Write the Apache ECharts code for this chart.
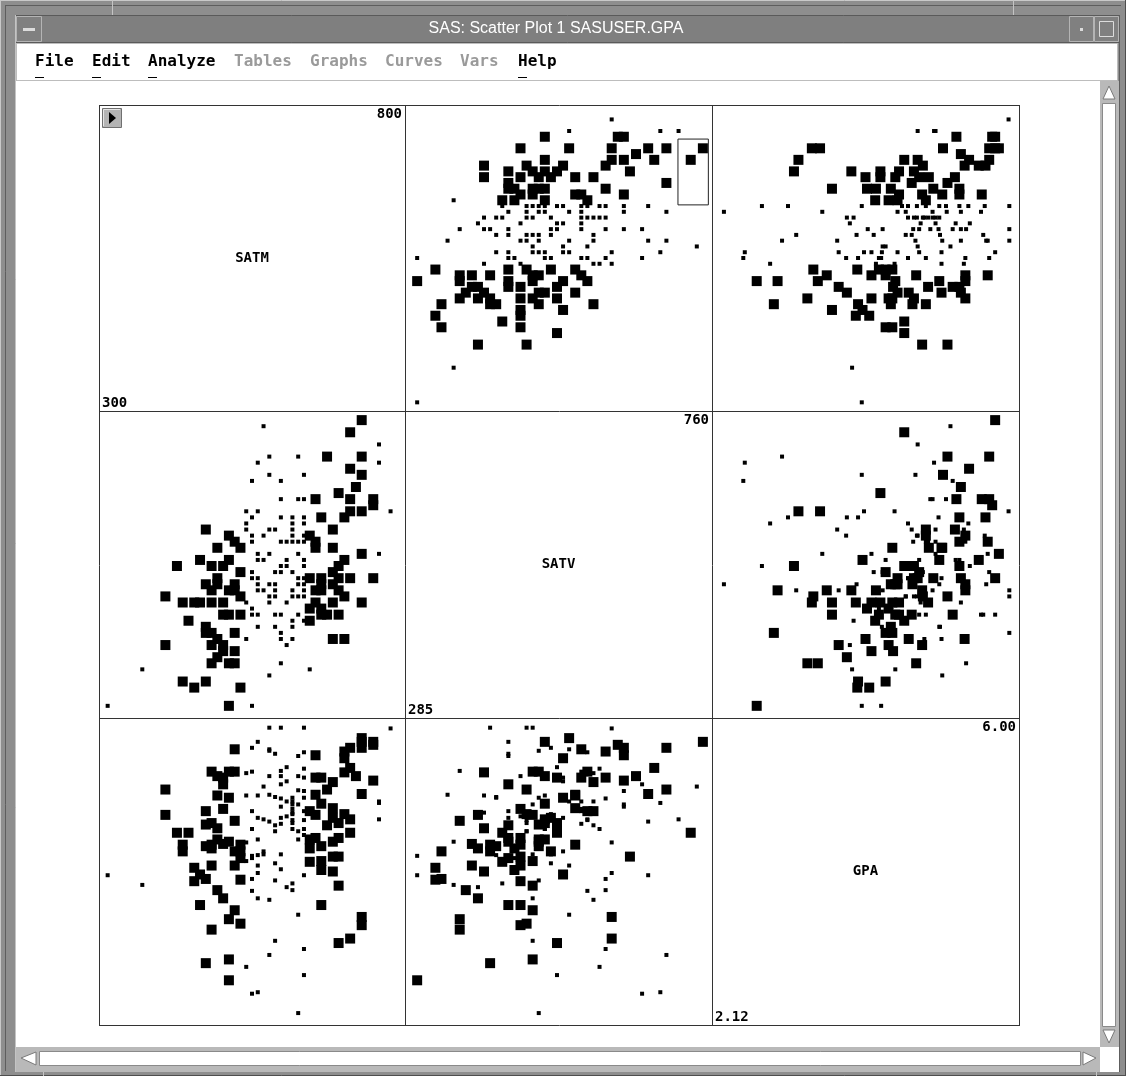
<!DOCTYPE html>
<html>
<head>
<meta charset="utf-8">
<script src="https://cdn.jsdelivr.net/npm/echarts@6/dist/echarts.min.js"></script>
<style>
  html, body { margin: 0; padding: 0; background: #8e8e8e; }
  #chart { width: 1126px; height: 1076px; }
</style>
</head>
<body>
<div id="chart"></div>
<script>
// variables of the matrix, in row/column order
const varNames = ['SATM', 'SATV', 'GPA'];
const minLabels = ['300', '285', '2.12'];
const maxLabels = ['800', '760', '6.00'];
const axisMin = [285, 270, 2.0];
const axisMax = [815, 775, 6.12];

// one entry per student
const satm = [
  790, 770, 770, 770,
  760, 740, 740, 740, 760, 760, 740, 740, 740,
  720, 730, 720, 720, 710, 720, 700, 680,
  710, 690, 710, 700, 720, 700, 690, 690, 700, 710,
  700, 680, 690, 670, 670, 660, 650, 650, 670, 670,
  670, 660, 650, 690, 690, 670, 660, 660, 660, 650,
  650, 640, 630, 640, 630, 640, 640, 630, 640, 630,
  640, 640, 630, 640, 630, 640, 640, 640, 640, 630, 640, 630,
  620, 620, 620, 620, 620, 620, 620, 620, 620, 620, 620,
  610, 610, 610, 610, 610,
  600, 600, 600, 600, 600, 600, 600, 600, 600, 600,
  580,
  590, 590, 590, 590, 590, 590, 590,
  580, 580, 580, 580, 580, 580, 580,
  570, 570, 570, 570,
  550,
  560, 560, 560, 560, 560, 560, 560,
  550, 550,
  560, 550, 560,
  550, 550, 550, 550, 550,
  540, 540, 540, 540, 540,
  510, 530, 520, 510, 520, 500, 520, 530, 510, 500,
  530, 520, 520, 510, 530, 500, 510, 530, 520, 510,
  500, 500, 490, 480, 480, 490, 480, 470, 470, 480,
  480, 490, 480, 490, 470, 470, 460, 460, 450, 450,
  430, 440, 430, 420, 400, 400,
  360, 300,
  490, 470
];
const satv = [
  610, 540, 690, 720,
  500, 460, 540, 610, 620, 630, 670, 700, 760,
  740, 650, 630, 610, 600, 680, 640, 700,
  400, 400, 470, 480, 500, 500, 490, 510, 520, 530,
  440, 440, 460, 450, 440, 460, 450, 430, 480, 490,
  500, 480, 500, 550, 580, 600, 630, 550, 560, 570,
  350, 430, 440, 470, 470, 480, 490, 490, 500, 500,
  520, 530, 540, 560, 560, 570, 600, 590, 630, 630, 670, 700,
  400, 420, 430, 470, 480, 510, 560, 570, 580, 590, 600,
  390, 460, 520, 530, 560,
  360, 400, 410, 440, 510, 520, 560, 600, 630, 660,
  340,
  420, 440, 470, 480, 490, 510, 580,
  670, 700, 460, 470, 490, 540, 580,
  480, 530, 570, 750,
  290,
  420, 440, 480, 490, 500, 530, 540,
  560, 570,
  610, 600, 690,
  660, 440, 450, 500, 510,
  400, 460, 580, 590, 610,
  290, 320, 360, 360, 380, 380, 410, 440, 440, 440,
  470, 480, 490, 480, 510, 520, 530, 550, 560, 570,
  460, 390, 370, 360, 390, 400, 410, 420, 410, 460,
  480, 490, 520, 550, 580, 330, 530, 460, 460, 320,
  330, 430, 460, 520, 390, 470,
  350, 290,
  500, 490
];
const gpa = [
  5.98, 5.00, 4.98, 4.76,
  5.80, 3.34, 5.85, 3.45, 5.76, 5.28, 5.10, 5.72, 5.80,
  4.58, 5.34, 5.72, 3.16, 5.67, 5.45, 4.26, 5.16,
  5.39, 4.06, 4.83, 3.87, 4.76, 4.71, 4.46, 4.78, 3.10, 5.58,
  4.51, 4.68, 4.26, 4.08, 3.61, 4.51, 4.37, 4.19, 4.20, 4.40,
  4.97, 4.82, 4.49, 4.91, 5.26, 5.32, 5.62, 5.09, 5.32, 4.87,
  4.46, 4.55, 5.61, 4.75, 4.60, 5.99, 5.05, 2.16, 4.63, 4.49,
  2.67, 5.32, 3.48, 4.87, 5.34, 5.66, 3.02, 5.44, 5.14, 4.96, 4.01, 5.15,
  4.85, 5.05, 3.90, 4.71, 4.96, 4.83, 4.90, 4.75, 5.00, 4.63, 3.81,
  3.85, 4.80, 5.46, 5.27, 5.00,
  5.41, 4.09, 5.99, 4.78, 4.29, 5.34, 4.70, 5.04, 4.93, 5.23,
  5.09,
  5.06, 5.64, 4.60, 3.13, 3.94, 4.17, 4.68,
  4.73, 2.94, 5.34, 5.99, 5.68, 5.70, 3.68,
  4.29, 4.33, 4.76, 5.20,
  4.27,
  4.28, 5.80, 3.70, 4.49, 5.08, 4.78, 4.14,
  5.40, 3.80,
  4.04, 3.96, 2.44,
  2.42, 4.87, 4.24, 4.63, 5.72,
  5.08, 4.20, 5.38, 2.78, 4.45,
  2.60, 3.95, 4.74, 3.42, 4.14, 4.43, 4.33, 4.24, 4.46, 5.23,
  3.36, 3.54, 5.40, 2.88, 4.33, 5.32, 5.05, 4.42, 5.70, 5.40,
  4.90, 3.70, 3.81, 3.28, 4.37, 4.64, 4.42, 4.40, 2.83, 4.14,
  5.40, 4.49, 4.71, 5.08, 4.87, 3.96, 4.02, 3.61, 3.93, 4.11,
  4.33, 4.58, 4.42, 4.58, 4.82, 5.16,
  3.88, 4.01,
  5.34, 4.69
];
// 1 = drawn with the large marker
const big = [
  0, 0, 0, 0,
  1, 1, 1, 1, 1, 1, 1, 1, 1,
  1, 1, 1, 1, 1, 1, 1, 1,
  1, 1, 1, 1, 1, 1, 1, 1, 1, 1,
  1, 1, 1, 1, 1, 1, 1, 1, 1, 1,
  1, 1, 1, 1, 1, 1, 1, 1, 1, 1,
  0, 0, 0, 0, 0, 0, 0, 0, 0, 0,
  0, 0, 0, 0, 0, 0, 0, 0, 0, 0, 0, 0,
  0, 0, 0, 0, 0, 0, 0, 0, 0, 0, 0,
  0, 0, 0, 0, 0,
  0, 0, 0, 0, 0, 0, 0, 0, 0, 0,
  0,
  0, 0, 0, 0, 0, 0, 0,
  0, 0, 0, 0, 0, 0, 0,
  0, 0, 0, 0,
  0,
  0, 0, 0, 0, 0, 0, 0,
  0, 0,
  0, 0, 0,
  0, 0, 0, 0, 0,
  0, 0, 0, 0, 0,
  1, 1, 1, 1, 1, 1, 1, 1, 1, 1,
  1, 1, 1, 1, 1, 1, 1, 1, 1, 1,
  1, 1, 1, 1, 1, 1, 1, 1, 1, 1,
  1, 1, 1, 1, 1, 1, 1, 1, 1, 1,
  1, 1, 1, 1, 1, 1,
  0, 0,
  1, 1
];
// brushed rectangle in the SATV / SATM panel (SATV, SATM corners)
const brushBox = [[719, 756], [769, 642]];

const menuItems = ['File', 'Edit', 'Analyze', 'Tables', 'Graphs', 'Curves', 'Vars', 'Help'];
const menuEnabled = [1, 1, 1, 0, 0, 0, 0, 1];
const menuX = [35, 92, 148, 234, 310, 385, 460, 518];

const cols = [satm, satv, gpa];
const cellX = [99, 405, 712, 1019];
const cellY = [105, 411, 718, 1025];

const chart = echarts.init(document.getElementById('chart'));

const grids = [], xAxes = [], yAxes = [], series = [];
for (let r = 0; r < 3; r++) {
  for (let c = 0; c < 3; c++) {
    if (r === c) continue;
    const gi = grids.length;
    grids.push({
      left: cellX[c], top: cellY[r],
      width: cellX[c + 1] - cellX[c], height: cellY[r + 1] - cellY[r],
      show: false
    });
    xAxes.push({ gridIndex: gi, type: 'value', min: axisMin[c], max: axisMax[c], show: false });
    yAxes.push({ gridIndex: gi, type: 'value', min: axisMin[r], max: axisMax[r], show: false });
    const pts = satm.map((_, i) => [cols[c][i], cols[r][i], big[i]]);
    const s = {
      type: 'scatter',
      xAxisIndex: gi, yAxisIndex: gi,
      symbol: 'rect',
      symbolSize: v => (v[2] ? 10 : 4),
      itemStyle: { color: '#000', opacity: 1 },
      silent: true,
      clip: false,
      data: pts
    };
    if (r === 0 && c === 1) {
      s.markArea = {
        silent: true,
        itemStyle: { color: 'rgba(0,0,0,0)', borderColor: '#222', borderWidth: 1 },
        data: [[{ coord: brushBox[0] }, { coord: brushBox[1] }]]
      };
    }
    series.push(s);
  }
}

// window chrome and matrix frame
const g = [];
const rect = (x, y, w, h, fill, stroke, z) => ({
  type: 'rect', z: z || 0, silent: true,
  shape: { x: x, y: y, width: w, height: h },
  style: { fill: fill, stroke: stroke || null, lineWidth: 1 }
});
const line = (x1, y1, x2, y2, color, z) => ({
  type: 'line', z: z || 1, silent: true,
  shape: { x1: x1, y1: y1, x2: x2, y2: y2 },
  style: { stroke: color, lineWidth: 1 }
});
const poly = (pts, fill, stroke, z) => ({
  type: 'polygon', z: z || 1, silent: true,
  shape: { points: pts },
  style: { fill: fill, stroke: stroke || null, lineWidth: 1 }
});
const text = (t, x, y, font, fill, align, valign, z) => ({
  type: 'text', z: z || 5, silent: true,
  style: { text: t, x: x, y: y, font: font, fill: fill,
    align: align, verticalAlign: valign, textAlign: align, textVerticalAlign: valign }
});

// outer frame bevels
g.push(line(0.5, 0, 0.5, 1076, '#c9c9c9'));
g.push(line(0, 0.5, 1126, 0.5, '#c9c9c9'));
g.push(line(1125.5, 0, 1125.5, 1076, '#4e4e4e'));
g.push(line(0, 1075.5, 1126, 1075.5, '#4e4e4e'));
g.push(line(5.5, 5, 5.5, 1071, '#5e5e5e'));
g.push(line(5, 5.5, 1121, 5.5, '#5e5e5e'));
g.push(line(15.5, 15, 15.5, 1072, '#c4c4c4'));
g.push(line(1119.5, 15, 1119.5, 1072, '#5e5e5e'));
g.push(line(112.5, 0, 112.5, 15, '#c4c4c4'));
g.push(line(1013.5, 0, 1013.5, 15, '#c4c4c4'));

// title bar
g.push(rect(16, 16, 1103, 27, '#7f7f7f'));
g.push(line(16, 15.5, 1119, 15.5, '#5a5a5a'));
g.push(line(16, 42.5, 1119, 42.5, '#5a5a5a'));
g.push(rect(16.5, 16.5, 25, 25, '#808080', '#b4b4b4', 1));
g.push(rect(23, 28, 12, 3, '#dcdcdc', null, 2));
g.push(rect(1069.5, 16.5, 24, 25, '#808080', '#b4b4b4', 1));
g.push(rect(1080, 28, 3, 3, '#dcdcdc', null, 2));
g.push(rect(1094.5, 16.5, 24, 25, '#808080', '#b4b4b4', 1));
g.push(rect(1099.5, 21.5, 14, 15, null, '#dcdcdc', 2));
g.push(text('SAS: Scatter Plot 1 SASUSER.GPA', 556, 29,
  '16px "Liberation Sans", Arial, sans-serif', '#ffffff', 'center', 'middle'));

// menu bar
g.push(rect(16.5, 43.5, 1101, 37, '#ffffff', '#bdbdbd'));
menuItems.forEach((m, i) => {
  g.push(text(m, menuX[i], 62, 'bold 16px "DejaVu Sans Mono", monospace',
    menuEnabled[i] ? '#000000' : '#9a9a9a', 'left', 'middle'));
  if (menuEnabled[i]) g.push(line(menuX[i], 77.5, menuX[i] + 9, 77.5, '#000000', 6));
});

// plot canvas
g.push(rect(16, 81, 1084, 966, '#ffffff'));

// vertical scrollbar
g.push(rect(1100, 81, 19, 966, '#b9b9b9'));
g.push(rect(1102.5, 103.5, 13, 923, '#ffffff', '#8a8a8a', 1));
g.push(poly([[1109, 86], [1103, 99], [1115, 99]], '#ffffff', '#7a7a7a'));
g.push(poly([[1103, 1030], [1115, 1030], [1109, 1043]], '#ffffff', '#7a7a7a'));

// horizontal scrollbar
g.push(rect(16, 1047, 1084, 25, '#b9b9b9'));
g.push(rect(39.5, 1051.5, 1041, 14, '#ffffff', '#8a8a8a', 1));
g.push(poly([[21, 1058], [36, 1052], [36, 1065]], '#ffffff', '#7a7a7a'));
g.push(poly([[1096, 1058], [1083, 1052], [1083, 1065]], '#ffffff', '#7a7a7a'));
g.push(rect(1100, 1047, 19, 25, '#ffffff'));
g.push(line(43.5, 1072, 43.5, 1076, '#c4c4c4'));
g.push(line(1096.5, 1072, 1096.5, 1076, '#c4c4c4'));

// matrix cell borders
for (let k = 0; k < 4; k++) {
  g.push(line(cellX[k] + 0.5, cellY[0], cellX[k] + 0.5, cellY[3] + 1, '#333333', 10));
  g.push(line(cellX[0], cellY[k] + 0.5, cellX[3] + 1, cellY[k] + 0.5, '#333333', 10));
}

// diagonal cells: name, min and max
const labelFont = 'bold 14px "DejaVu Sans Mono", monospace';
for (let d = 0; d < 3; d++) {
  const cx = (cellX[d] + cellX[d + 1]) / 2, cy = (cellY[d] + cellY[d + 1]) / 2;
  g.push(text(varNames[d], cx, cy, labelFont, '#000', 'center', 'middle'));
  g.push(text(maxLabels[d], cellX[d + 1] - 3, cellY[d] + 2, labelFont, '#000', 'right', 'top'));
  g.push(text(minLabels[d], cellX[d] + 3, cellY[d + 1] - 1, labelFont, '#000', 'left', 'bottom'));
}

// small arrow button in the top-left cell
g.push(rect(102.5, 108.5, 19, 19, '#b4b4b4', '#707070', 6));
g.push(line(103.5, 109.5, 120, 109.5, '#e6e6e6', 7));
g.push(line(103.5, 109.5, 103.5, 126, '#e6e6e6', 7));
g.push(poly([[109, 112], [109, 124], [116, 118]], '#000000', null, 7));

chart.setOption({
  animation: false,
  backgroundColor: '#8e8e8e',
  grid: grids,
  xAxis: xAxes,
  yAxis: yAxes,
  series: series,
  graphic: { elements: g }
});
</script>
</body>
</html>
